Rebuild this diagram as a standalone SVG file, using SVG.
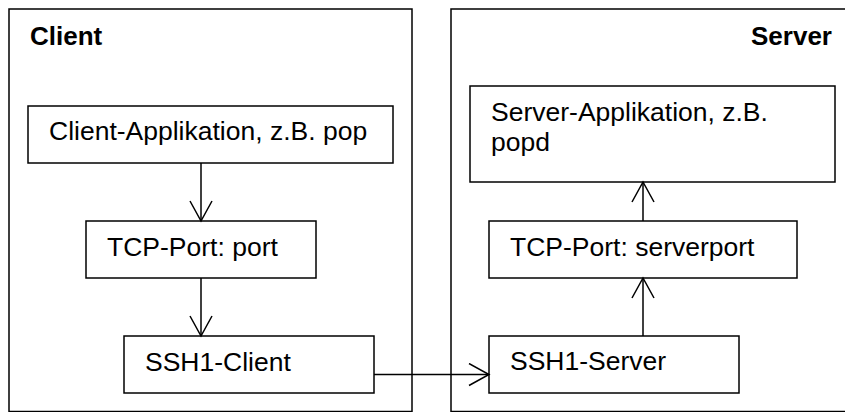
<svg xmlns="http://www.w3.org/2000/svg" width="845" height="412" viewBox="0 0 845 412">
<style>
rect{fill:#fff;stroke:#000;stroke-width:1.5}
text{font-family:"Liberation Sans",Arial,sans-serif;font-size:26.5px;fill:#000}
.b{font-weight:bold;font-size:26px}
.c{stroke:#000;stroke-width:1.5;fill:none}
</style>
<defs>
<marker id="open" markerUnits="userSpaceOnUse" markerWidth="24" markerHeight="26" refX="21" refY="12" orient="auto" viewBox="0 0 24 26">
<path d="M1,1 L21,12 L1,23" fill="none" stroke="#000" stroke-width="1.5"/>
</marker>
</defs>
<g id="client">
<rect x="9" y="9" width="403" height="402.5"/>
<text class="b" x="30" y="45">Client</text>
</g>
<g id="server">
<rect x="451" y="9" width="410" height="402.5"/>
<text class="b" x="832" y="45" text-anchor="end">Server</text>
</g>
<g id="client-app">
<rect x="28" y="106" width="365" height="57"/>
<text x="49" y="140">Client-Applikation, z.B. pop</text>
</g>
<g id="tcp-port">
<rect x="86" y="221" width="230" height="57"/>
<text x="107" y="256">TCP-Port: port</text>
</g>
<g id="ssh1-client">
<rect x="124" y="336" width="250" height="57"/>
<text x="145" y="371">SSH1-Client</text>
</g>
<g id="server-app">
<rect x="470" y="86" width="365" height="96"/>
<text x="491" y="121">Server-Applikation, z.B.</text>
<text x="491" y="151">popd</text>
</g>
<g id="tcp-serverport">
<rect x="489" y="221" width="308" height="57"/>
<text x="510" y="256">TCP-Port: serverport</text>
</g>
<g id="ssh1-server">
<rect x="489" y="336" width="250" height="57"/>
<text x="510" y="370">SSH1-Server</text>
</g>
<g id="connectors">
<line class="c" x1="201" y1="163" x2="201" y2="221" marker-end="url(#open)"/>
<line class="c" x1="201" y1="278" x2="201" y2="336" marker-end="url(#open)"/>
<line class="c" x1="374" y1="374.5" x2="489" y2="374.5" marker-end="url(#open)"/>
<line class="c" x1="643" y1="336" x2="643" y2="278" marker-end="url(#open)"/>
<line class="c" x1="643" y1="221" x2="643" y2="182" marker-end="url(#open)"/>
</g>
</svg>
